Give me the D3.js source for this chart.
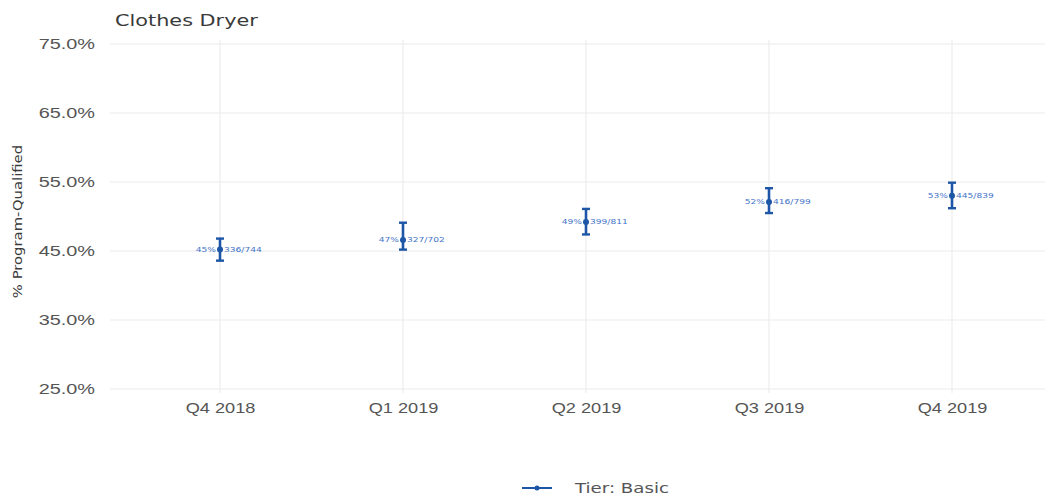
<!DOCTYPE html>
<html>
<head>
<meta charset="utf-8">
<script src="https://cdn.jsdelivr.net/npm/d3@7"></script>
<style>
  html, body { margin: 0; padding: 0; background: #fff; }
  svg { display: block; font-family: "DejaVu Sans", Verdana, sans-serif; }
</style>
</head>
<body>
<svg id="chart" width="1053" height="500"></svg>
<script>
// Quarterly share of program-qualified clothes dryers, Basic tier
const quarters = ["Q4 2018", "Q1 2019", "Q2 2019", "Q3 2019", "Q4 2019"];
const qualified = [336, 327, 399, 416, 445];
const totals = [744, 702, 811, 799, 839];
const pctValues = [45.2, 46.6, 49.2, 52.1, 53.0];
const lowerBounds = [43.6, 45.2, 47.4, 50.5, 51.2];
const upperBounds = [46.8, 49.1, 51.1, 54.1, 54.9];
const yTicks = [25, 35, 45, 55, 65, 75];
const seriesName = "Tier: Basic";

const data = quarters.map((q, i) => ({
  q, n: qualified[i], total: totals[i], pct: pctValues[i],
  lo: lowerBounds[i], hi: upperBounds[i]
}));

const svg = d3.select("#chart");
const panel = { left: 110, right: 1045, top: 44, bottom: 389 };
const stretch = 1.3; // text is set a little wide

const x = d3.scalePoint().domain(quarters).range([220, 952]);
const y = d3.scaleLinear().domain([25, 75]).range([panel.bottom, panel.top]);

const gridColor = "#ebebeb";
const barColor = "#1d56a6";
const labelColor = "#3f74c8";
const textColor = "#555";

// places a text at (px, py) with horizontal stretch
function wideText(sel, px, py, sx) {
  return sel.attr("transform", (d, i) => {
    const a = typeof px === "function" ? px(d, i) : px;
    const b = typeof py === "function" ? py(d, i) : py;
    return `translate(${a},${b}) scale(${sx},1)`;
  });
}

// horizontal grid
svg.append("g").selectAll("line").data(yTicks).join("line")
  .attr("x1", panel.left).attr("x2", panel.right)
  .attr("y1", d => y(d)).attr("y2", d => y(d))
  .attr("stroke", gridColor).attr("stroke-width", 1.1);

// vertical grid
svg.append("g").selectAll("line").data(quarters).join("line")
  .attr("x1", d => x(d)).attr("x2", d => x(d))
  .attr("y1", panel.top - 4).attr("y2", panel.bottom + 4)
  .attr("stroke", gridColor).attr("stroke-width", 1.1);

// y axis labels
const yAxis = d3.axisLeft(y).tickValues(yTicks).tickFormat(d => d.toFixed(1) + "%").tickSize(0).tickPadding(0);
const gy = svg.append("g").attr("transform", `translate(${panel.left - 15},0)`).call(yAxis);
gy.select(".domain").remove();
gy.selectAll("text").attr("fill", textColor).attr("font-size", 14).attr("dy", "0.35em")
  .attr("transform", "scale(1.42,1)");

// x axis labels
const xAxis = d3.axisBottom(x).tickSize(0).tickPadding(0);
const gx = svg.append("g").attr("transform", `translate(0,${panel.bottom + 14})`).call(xAxis);
gx.select(".domain").remove();
gx.selectAll("text").attr("fill", textColor).attr("font-size", 14).attr("dy", "0.71em")
  .attr("transform", `scale(${stretch},1)`);

// title
wideText(svg.append("text"), 115, 26, stretch)
  .attr("font-size", 16).attr("fill", "#3a3a3a").text("Clothes Dryer");

// y axis title
svg.append("text")
  .attr("transform", `translate(22,${(panel.top + panel.bottom) / 2 + 5}) rotate(-90) scale(1.14,1)`)
  .attr("text-anchor", "middle").attr("font-size", 13).attr("fill", "#3a3a3a")
  .text("% Program-Qualified");

// error bars
const bars = svg.append("g").selectAll("g").data(data).join("g");
bars.append("line")
  .attr("x1", d => x(d.q)).attr("x2", d => x(d.q))
  .attr("y1", d => y(d.lo)).attr("y2", d => y(d.hi))
  .attr("stroke", barColor).attr("stroke-width", 2.6);
bars.append("line")
  .attr("x1", d => x(d.q) - 4).attr("x2", d => x(d.q) + 4)
  .attr("y1", d => y(d.hi)).attr("y2", d => y(d.hi))
  .attr("stroke", barColor).attr("stroke-width", 2.4);
bars.append("line")
  .attr("x1", d => x(d.q) - 4).attr("x2", d => x(d.q) + 4)
  .attr("y1", d => y(d.lo)).attr("y2", d => y(d.lo))
  .attr("stroke", barColor).attr("stroke-width", 2.4);
bars.append("circle")
  .attr("cx", d => x(d.q)).attr("cy", d => y(d.pct)).attr("r", 3)
  .attr("fill", barColor);

// value labels
wideText(bars.append("text"), d => x(d.q) - 4, d => y(d.pct), stretch)
  .attr("dy", "0.35em")
  .attr("text-anchor", "end").attr("font-size", 7).attr("fill", labelColor)
  .text(d => Math.round(d.pct) + "%");
wideText(bars.append("text"), d => x(d.q) + 4, d => y(d.pct), stretch)
  .attr("dy", "0.35em")
  .attr("text-anchor", "start").attr("font-size", 7).attr("fill", labelColor)
  .text(d => d.n + "/" + d.total);

// legend
const lg = svg.append("g").attr("transform", "translate(522,488)");
lg.append("line").attr("x1", 0).attr("x2", 30).attr("y1", 0).attr("y2", 0)
  .attr("stroke", barColor).attr("stroke-width", 2);
lg.append("circle").attr("cx", 15).attr("cy", 0).attr("r", 2.5).attr("fill", barColor);
wideText(lg.append("text"), 53, 0, stretch).attr("dy", "0.35em")
  .attr("font-size", 14).attr("fill", textColor).text(seriesName);
</script>
</body>
</html>
